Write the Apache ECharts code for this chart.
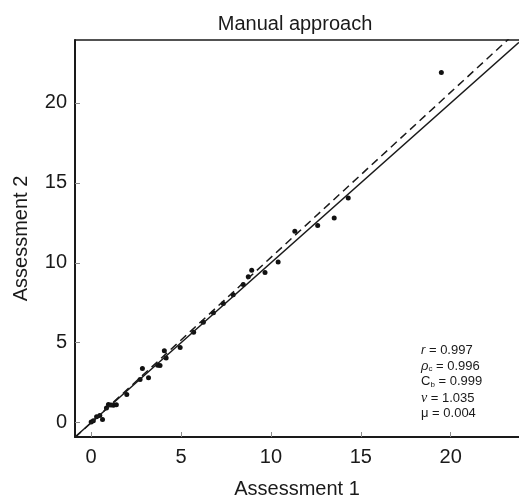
<!DOCTYPE html>
<html>
<head>
<meta charset="utf-8">
<script src="https://cdn.jsdelivr.net/npm/echarts@6/dist/echarts.min.js"></script>
<style>
  html, body { margin: 0; padding: 0; background: #fff; }
  #chart { width: 519px; height: 504px; }
</style>
</head>
<body>
<div id="chart"></div>
<script>
// Manual approach: assessment 1 vs assessment 2, with identity (solid) and
// concordance fit (dashed) lines, plus the agreement stats in the corner.
const titleText = 'Manual approach';
const xName = 'Assessment 1';
const yName = 'Assessment 2';
const tickValues = [0, 5, 10, 15, 20];
const axisMin = -0.9;
const xMax = 23.8;
const yMax = 23.94;

// [assessment 1, assessment 2]
const points = [
  [0, 0.04], [0.12, 0.12], [0.3, 0.37], [0.48, 0.45], [0.63, 0.19],
  [0.85, 0.92], [0.96, 1.14], [1.1, 1.1], [1.24, 1.08], [1.4, 1.12],
  [1.98, 1.76], [2.72, 2.69], [2.85, 3.38], [3.19, 2.8], [3.7, 3.59],
  [3.83, 3.57], [4.07, 4.5], [4.17, 4.04], [4.95, 4.7], [5.7, 5.65],
  [6.24, 6.28], [6.8, 6.88], [7.35, 7.46], [7.9, 8.0], [8.46, 8.64],
  [8.74, 9.12], [8.93, 9.53], [9.67, 9.39], [10.4, 10.05], [11.33, 11.98],
  [12.6, 12.33], [13.52, 12.81], [14.3, 14.05], [19.48, 21.9],
];
const identityLine = [[-0.9, -0.9], [23.8, 23.8]];
const fitLine = [[-0.9, -0.93], [23.8, 24.6]];

const stats = [
  ['{i|r} = 0.997'],
  ['{i|ρ}{sub|c} = 0.996'],
  ['C{sub|b} = 0.999'],
  ['{v|ν} = 1.035'],
  ['μ = 0.004'],
];

const chart = echarts.init(document.getElementById('chart'), null, { renderer: 'canvas' });
const ink = '#1a1a1a';
const font = 'Liberation Sans, Arial, sans-serif';

const tickStyle = { show: true, inside: true, length: 5, lineStyle: { color: '#8a8a8a', width: 1 }, customValues: tickValues };
const labelStyle = { color: ink, fontSize: 20, fontFamily: font, customValues: tickValues };

chart.setOption({
  animation: false,
  title: {
    text: titleText, left: 290, top: 9, textAlign: 'center',
    textStyle: { color: ink, fontSize: 20, fontWeight: 'normal', fontFamily: font },
  },
  grid: { left: 75, right: 0, top: 40, bottom: 65 },
  xAxis: [
    {
      type: 'value', min: axisMin, max: xMax, position: 'bottom',
      name: xName, nameLocation: 'middle', nameGap: 42,
      nameTextStyle: { color: ink, fontSize: 20, fontFamily: font },
      axisLine: { show: true, onZero: false, lineStyle: { color: ink, width: 2 } },
      axisTick: tickStyle,
      axisLabel: { ...labelStyle, margin: 10 },
      splitLine: { show: false },
    },
    {
      type: 'value', min: axisMin, max: xMax, position: 'top',
      axisLine: { show: true, onZero: false, lineStyle: { color: ink, width: 1.5 } },
      axisTick: { show: false }, axisLabel: { show: false }, splitLine: { show: false },
    },
  ],
  yAxis: {
    type: 'value', min: axisMin, max: yMax,
    name: yName, nameLocation: 'middle', nameGap: 44,
    nameTextStyle: { color: ink, fontSize: 20, fontFamily: font },
    axisLine: { show: true, onZero: false, lineStyle: { color: ink, width: 2 } },
    axisTick: tickStyle,
    axisLabel: { ...labelStyle, margin: 8 },
    splitLine: { show: false },
  },
  graphic: stats.map((s, i) => ({
    type: 'text', left: 421, top: 344 + i * 15.7,
    style: {
      text: s[0], fill: ink, font: `13px ${font}`,
      rich: {
        i: { fontStyle: 'italic', fontSize: 13, fontFamily: font },
        v: { fontStyle: 'italic', fontSize: 14, fontFamily: 'Liberation Serif, DejaVu Serif, serif' },
        sub: { fontSize: 8, fontFamily: font, lineHeight: 8, verticalAlign: 'bottom' },
      },
    },
  })),
  series: [
    {
      type: 'line', data: identityLine, showSymbol: false, symbol: 'none', silent: true,
      lineStyle: { color: ink, width: 1.5 }, clip: true,
    },
    {
      type: 'line', data: fitLine, showSymbol: false, symbol: 'none', silent: true,
      lineStyle: { color: ink, width: 1.5, type: [8, 5] }, clip: true,
    },
    {
      type: 'scatter', data: points, symbolSize: 5,
      itemStyle: { color: '#111', opacity: 1 },
    },
  ],
});
</script>
</body>
</html>
